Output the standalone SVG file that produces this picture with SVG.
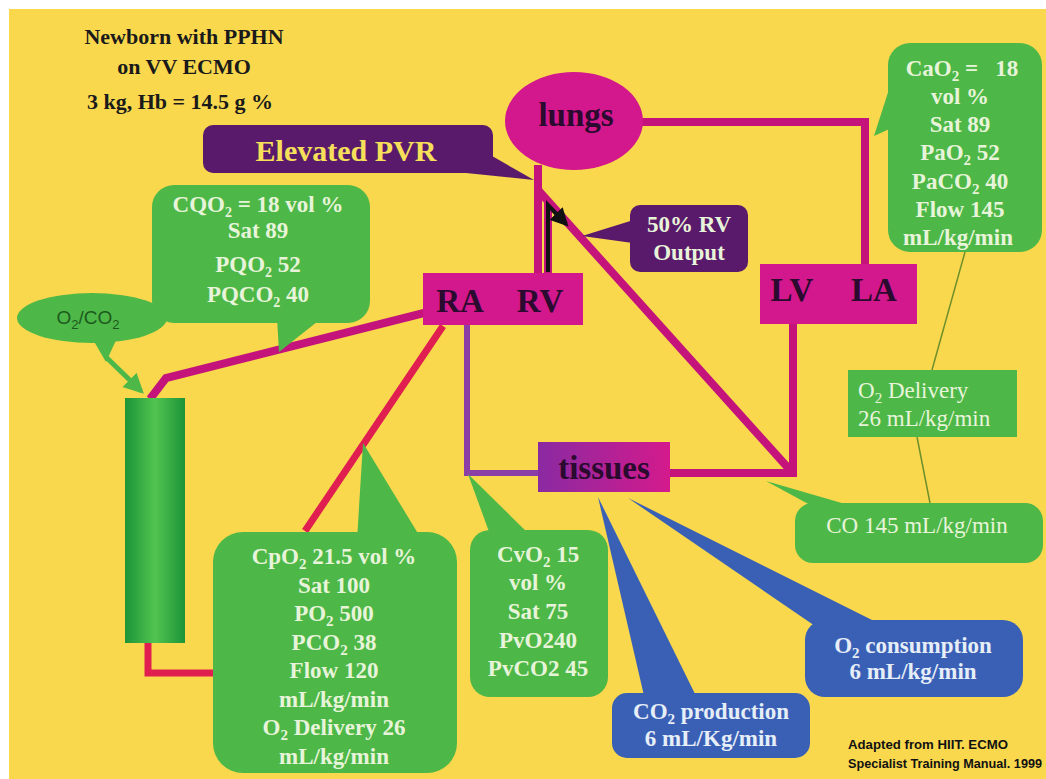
<svg xmlns="http://www.w3.org/2000/svg" width="1046" height="779" viewBox="0 0 1046 779">
<defs>
<style>
.serif{font-family:"Liberation Serif","Times New Roman",serif;font-weight:bold}
.gt{font-family:"Liberation Serif","Times New Roman",serif;font-weight:bold;font-size:23px;fill:#E8F4DA;text-anchor:middle}
.gr{font-family:"Liberation Serif","Times New Roman",serif;font-weight:normal;font-size:23px;fill:#E8F4DA}
.bt{font-family:"Liberation Serif","Times New Roman",serif;font-weight:bold;font-size:23px;fill:#E6EEF8;text-anchor:middle}
.ht{font-family:"Liberation Serif","Times New Roman",serif;font-weight:bold;font-size:33px;fill:#2A0A2E;text-anchor:middle}
.cr{font-family:"Liberation Sans",Arial,sans-serif;font-weight:bold;font-size:12.5px;fill:#111}
.green{fill:#4DB848}
.blue{fill:#3A60B6}
.dpurple{fill:#5A1A6C}
.mag{fill:#D2188C}
.lm{fill:none;stroke:#C4147C;stroke-width:8;stroke-linejoin:miter}
.lr{fill:none;stroke:#E01E50;stroke-width:7}
.lp{fill:none;stroke:#8B3FA6;stroke-width:6}
.lo{fill:none;stroke:#6E8F2A;stroke-width:1.5}
</style>
<marker id="ahG" viewBox="0 0 10 10" refX="8" refY="5" markerWidth="4" markerHeight="4" orient="auto"><path d="M0,0 L10,5 L0,10 Z" fill="#4DB848"/></marker>
<marker id="ahK" viewBox="0 0 10 10" refX="8" refY="5" markerWidth="4.5" markerHeight="4.5" orient="auto"><path d="M0,0 L10,5 L0,10 Z" fill="#111"/></marker>
<linearGradient id="cyl" x1="0" y1="0" x2="1" y2="0">
<stop offset="0" stop-color="#1C9438"/><stop offset="0.5" stop-color="#52C450"/><stop offset="1" stop-color="#1C9438"/>
</linearGradient>
<linearGradient id="tis" x1="0" y1="0" x2="1" y2="0">
<stop offset="0" stop-color="#8A2AA2"/><stop offset="1" stop-color="#D41A8C"/>
</linearGradient>
</defs>
<rect x="0" y="0" width="1046" height="779" fill="#FFFFFF"/>
<rect x="9" y="9" width="1037" height="770" fill="#F9D84E"/>

<g id="connectors">
<path class="lm" d="M640,122 H865 V266" stroke-width="7"/>
<path class="lm" d="M538,165 V276"/>
<path class="lm" d="M548,200 V276" stroke-width="6"/>
<path class="lm" d="M538,190 L790,470"/>
<path class="lm" d="M793,322 V473 H668" stroke-width="7"/>
<path class="lp" d="M467,324 V473 H540"/>
<path class="lm" d="M424,313 L166,378 L150,399" stroke-width="7"/>
<path class="lr" d="M443,326 L305,531" stroke-width="6"/>
<path class="lr" d="M148,642 V673 H214"/>
<path d="M106,357 L141,391" fill="none" stroke="#4DB848" stroke-width="5" marker-end="url(#ahG)"/>
<path d="M548,272 V205 L566,224" fill="none" stroke="#111" stroke-width="4" marker-end="url(#ahK)"/>
<path class="lo" d="M965,252 L932,370"/>
<path class="lo" d="M917,437 L930,503"/>
</g>

<g id="title">
<text class="serif" x="184" y="44" font-size="22" fill="#1A1A1A" text-anchor="middle">Newborn with PPHN</text>
<text class="serif" x="184" y="74" font-size="22" fill="#1A1A1A" text-anchor="middle">on VV ECMO</text>
<text class="serif" x="180" y="109" font-size="22" fill="#1A1A1A" text-anchor="middle">3 kg, Hb = 14.5 g %</text>
</g>

<g id="lungs">
<ellipse class="mag" cx="574" cy="121" rx="69" ry="49"/>
<text class="ht" x="576" y="126" font-size="31">lungs</text>
</g>

<g id="ra-rv">
<rect class="mag" x="423" y="273" width="160" height="52"/>
<text class="ht" x="460" y="312">RA</text>
<text class="ht" x="540" y="312">RV</text>
</g>

<g id="lv-la">
<rect class="mag" x="760" y="264" width="157" height="60"/>
<text class="ht" x="792" y="301">LV</text>
<text class="ht" x="874" y="301">LA</text>
</g>

<g id="tissues">
<rect x="538" y="442" width="132" height="50" fill="url(#tis)"/>
<text class="ht" x="604" y="479" font-size="32">tissues</text>
</g>

<g id="oxygenator">
<rect x="125" y="398" width="60" height="245" fill="url(#cyl)"/>
</g>

<g id="o2co2">
<polygon class="green" points="92,338 106,362 118,336"/>
<ellipse class="green" cx="92" cy="318" rx="75" ry="25"/>
<text x="88" y="324" font-family="Liberation Sans, Arial, sans-serif" font-size="19" fill="#1D5A1D" text-anchor="middle">O<tspan dy="5" font-size="13">2</tspan><tspan dy="-5">/CO</tspan><tspan dy="5" font-size="13">2</tspan></text>
</g>

<g id="cqo2">
<polygon class="green" points="277,318 279,352 322,318"/>
<rect class="green" x="152" y="185" width="218" height="138" rx="22"/>
<text class="gt" x="258" y="212" font-size="22">CQO<tspan dy="5" font-size="14">2</tspan><tspan dy="-5"> = 18 vol %</tspan></text>
<text class="gt" x="258" y="238" font-size="22">Sat 89</text>
<text class="gt" x="258" y="272" font-size="22">PQO<tspan dy="5" font-size="14">2</tspan><tspan dy="-5"> 52</tspan></text>
<text class="gt" x="258" y="302" font-size="22">PQCO<tspan dy="5" font-size="14">2</tspan><tspan dy="-5"> 40</tspan></text>
</g>

<g id="elevated-pvr">
<polygon class="dpurple" points="478,148 534,180 466,173"/>
<rect class="dpurple" x="203" y="125" width="290" height="48" rx="10"/>
<text class="serif" x="346" y="161" font-size="30" fill="#F6E05A" text-anchor="middle">Elevated PVR</text>
</g>

<g id="rv-output">
<polygon class="dpurple" points="640,218 582,236 640,244"/>
<rect class="dpurple" x="630" y="205" width="118" height="67" rx="10"/>
<text class="gt" x="689" y="232" font-size="22" fill="#F4ECF4">50% RV</text>
<text class="gt" x="689" y="260" font-size="22" fill="#F4ECF4">Output</text>
</g>

<g id="cao2">
<polygon class="green" points="892,80 874,136 896,126"/>
<rect class="green" x="888" y="43" width="154" height="209" rx="22"/>
<text class="gt" x="962" y="76" font-size="24">CaO<tspan dy="5" font-size="15">2</tspan><tspan dy="-5"> =&#160;&#160; 18</tspan></text>
<text class="gt" x="960" y="104" font-size="24">vol %</text>
<text class="gt" x="960" y="132" font-size="24">Sat 89</text>
<text class="gt" x="960" y="160" font-size="24">PaO<tspan dy="5" font-size="15">2</tspan><tspan dy="-5"> 52</tspan></text>
<text class="gt" x="960" y="189" font-size="24">PaCO<tspan dy="5" font-size="15">2</tspan><tspan dy="-5"> 40</tspan></text>
<text class="gt" x="960" y="217" font-size="24">Flow 145</text>
<text class="gt" x="958" y="245" font-size="24">mL/kg/min</text>
</g>

<g id="o2-delivery">
<rect class="green" x="848" y="370" width="169" height="67"/>
<text class="gr" x="858" y="398">O<tspan dy="5" font-size="15">2</tspan><tspan dy="-5"> Delivery</tspan></text>
<text class="gr" x="858" y="426">26 mL/kg/min</text>
</g>

<g id="co">
<polygon class="green" points="766,481 812,506 852,506"/>
<rect class="green" x="795" y="503" width="248" height="60" rx="18"/>
<text class="gr" x="917" y="533" text-anchor="middle">CO 145 mL/kg/min</text>
</g>

<g id="cpo2">
<polygon class="green" points="357,540 363,443 422,540"/>
<rect class="green" x="213" y="532" width="244" height="241" rx="30"/>
<text class="gt" x="334" y="564">CpO<tspan dy="5" font-size="15">2</tspan><tspan dy="-5"> 21.5 vol %</tspan></text>
<text class="gt" x="334" y="593">Sat 100</text>
<text class="gt" x="334" y="621">PO<tspan dy="5" font-size="15">2</tspan><tspan dy="-5"> 500</tspan></text>
<text class="gt" x="334" y="650">PCO<tspan dy="5" font-size="15">2</tspan><tspan dy="-5"> 38</tspan></text>
<text class="gt" x="334" y="678">Flow 120</text>
<text class="gt" x="334" y="707">mL/kg/min</text>
<text class="gt" x="334" y="735">O<tspan dy="5" font-size="15">2</tspan><tspan dy="-5"> Delivery 26</tspan></text>
<text class="gt" x="334" y="764">mL/kg/min</text>
</g>

<g id="cvo2">
<polygon class="green" points="468,474 492,540 535,540"/>
<rect class="green" x="470" y="530" width="138" height="167" rx="20"/>
<text class="gt" x="538" y="562">CvO<tspan dy="5" font-size="15">2</tspan><tspan dy="-5"> 15</tspan></text>
<text class="gt" x="538" y="590">vol %</text>
<text class="gt" x="538" y="619">Sat 75</text>
<text class="gt" x="538" y="648">PvO240</text>
<text class="gt" x="538" y="676">PvCO2 45</text>
</g>

<g id="co2-production">
<polygon class="blue" points="598,497 645,700 698,700"/>
<rect class="blue" x="612" y="693" width="198" height="65" rx="15"/>
<text class="bt" x="711" y="719">CO<tspan dy="5" font-size="15">2</tspan><tspan dy="-5"> production</tspan></text>
<text class="bt" x="711" y="746">6 mL/Kg/min</text>
</g>

<g id="o2-consumption">
<polygon class="blue" points="628,498 880,624 818,628"/>
<rect class="blue" x="805" y="620" width="218" height="77" rx="20"/>
<text class="bt" x="913" y="653">O<tspan dy="5" font-size="15">2</tspan><tspan dy="-5"> consumption</tspan></text>
<text class="bt" x="913" y="679">6 mL/kg/min</text>
</g>

<g id="credit">
<text class="cr" x="848" y="749" textLength="160" lengthAdjust="spacingAndGlyphs">Adapted from HIIT. ECMO</text>
<text class="cr" x="848" y="768" textLength="194" lengthAdjust="spacingAndGlyphs">Specialist Training Manual. 1999</text>
</g>
</svg>
